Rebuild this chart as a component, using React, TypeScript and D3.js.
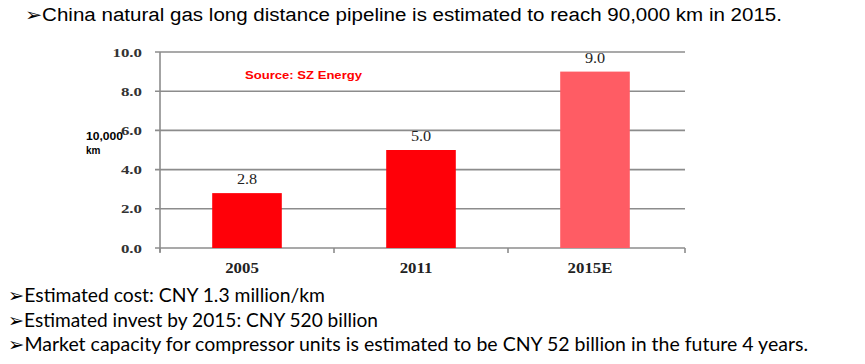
import * as d3 from "d3";

const CATEGORIES = ["2005", "2011", "2015E"];
const VALUES = [2.8, 5.0, 9.0];
const Y_TICKS = [0, 2, 4, 6, 8, 10];
const TITLE = "➢China natural gas long distance pipeline is estimated to reach 90,000 km in 2015.";
const NOTES = [
  "➢Estimated cost: CNY 1.3 million/km",
  "➢Estimated invest by 2015: CNY 520 billion",
  "➢Market capacity for compressor units is estimated to be CNY 52 billion in the future 4 years.",
];
const NOTE_WIDTHS = [317, 370, 800];

const W = 865;
const H = 364;
const margin = { top: 52, right: 183, bottom: 116, left: 160 };
const serif = "'Liberation Serif', 'Times New Roman', serif";
const sans = "'Liberation Sans', Arial, sans-serif";
const GRID = "#8c8c8c";

export default function App() {
  const x = d3
    .scaleBand<string>()
    .domain(CATEGORIES)
    .range([margin.left, W - margin.right])
    .padding(0);
  const y = d3.scaleLinear().domain([0, 10]).range([H - margin.bottom, margin.top]);
  const barW = x.bandwidth() * 0.4;
  const gridRight = W - margin.right + 3;
  const edges = [...CATEGORIES.map((c) => x(c)!), gridRight];

  return (
    <svg
      width={W}
      height={H}
      style={{ position: "absolute", left: 0, top: 0, background: "#fff" }}
    >
      <text
        x={25}
        y={21}
        fontFamily="'Liberation Sans Narrow', 'Liberation Sans', Arial, sans-serif"
        fontSize={18}
        fill="#000"
        textLength={757}
        lengthAdjust="spacingAndGlyphs"
      >
        {TITLE}
      </text>

      {/* gridlines + y ticks */}
      {Y_TICKS.map((t) => (
        <g key={t}>
          <line
            x1={margin.left - 5}
            x2={gridRight}
            y1={y(t)}
            y2={y(t)}
            stroke={GRID}
            strokeWidth={1.6}
          />
          <text
            transform={`translate(142,${y(t) + 4.5}) scale(1.3,1)`}
            textAnchor="end"
            fontFamily={serif}
            fontSize={13}
            fontWeight="bold"
            fill="#333"
          >
            {t.toFixed(1)}
          </text>
        </g>
      ))}
      <line
        x1={margin.left}
        x2={margin.left}
        y1={y(10)}
        y2={y(0) + 4}
        stroke={GRID}
        strokeWidth={1.6}
      />
      {edges.map((e, i) => (
        <line key={i} x1={e} x2={e} y1={y(0)} y2={y(0) + 5} stroke={GRID} strokeWidth={1.6} />
      ))}

      {/* bars */}
      {CATEGORIES.map((c, i) => {
        const cx = x(c)! + x.bandwidth() / 2;
        return (
          <g key={c}>
            <rect
              x={cx - barW / 2}
              y={y(VALUES[i])}
              width={barW}
              height={y(0) - y(VALUES[i])}
              fill={i === 2 ? "#ff5c64" : "#ff0008"}
            />
            <text
              transform={`translate(${cx},${y(VALUES[i]) - 9}) scale(1.08,1)`}
              textAnchor="middle"
              fontFamily={serif}
              fontSize={15}
              fill="#222"
            >
              {VALUES[i].toFixed(1)}
            </text>
            <text
              transform={`translate(${cx - 5},${y(0) + 25}) scale(1.2,1)`}
              textAnchor="middle"
              fontFamily={serif}
              fontSize={14}
              fontWeight="bold"
              fill="#222"
            >
              {c}
            </text>
          </g>
        );
      })}

      <text
        x={245}
        y={79}
        fontFamily={sans}
        fontSize={11.5}
        fontWeight="bold"
        fill="#ff0000"
        textLength={117}
        lengthAdjust="spacingAndGlyphs"
      >
        Source: SZ Energy
      </text>
      <text
        x={86}
        y={140}
        fontFamily={sans}
        fontSize={10}
        fontWeight="bold"
        fill="#000"
        textLength={37}
        lengthAdjust="spacingAndGlyphs"
      >
        10,000
      </text>
      <text x={86} y={154} fontFamily={sans} fontSize={10} fontWeight="bold" fill="#000">
        km
      </text>

      {NOTES.map((n, i) => (
        <text
          key={i}
          x={8}
          y={302 + i * 24.5}
          fontFamily="Lato, 'Open Sans', sans-serif"
          fontSize={19}
          fill="#000"
          textLength={NOTE_WIDTHS[i]}
          lengthAdjust="spacingAndGlyphs"
        >
          {n}
        </text>
      ))}
    </svg>
  );
}
